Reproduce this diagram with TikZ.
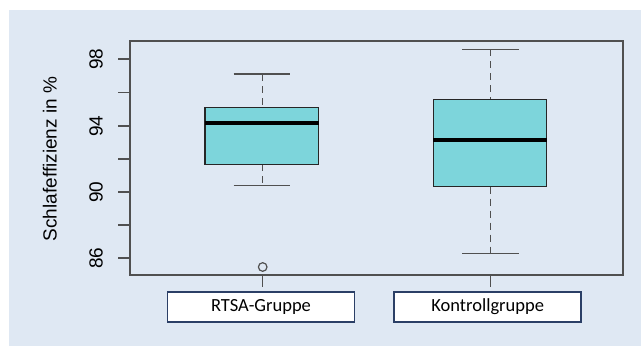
\documentclass[tikz,border=0pt]{standalone}
\usepackage{fontspec}
\setmainfont{Liberation Sans}
\newfontfamily\labelfont{Carlito}
\usetikzlibrary{positioning}
\definecolor{bgblue}{HTML}{DFE8F3}
\definecolor{boxcyan}{HTML}{7DD5DB}
\definecolor{axisgray}{HTML}{505050}
\definecolor{navy}{HTML}{2B3F66}
\begin{document}
\begin{tikzpicture}[x=1pt,y=-1pt,
    axisline/.style={draw=axisgray,line width=1.5pt},
    whisker/.style={draw=axisgray,line width=1.5pt,dash pattern=on 7pt off 5pt},
    boxbody/.style={draw=black!85,line width=1.5pt,fill=boxcyan},
    medianline/.style={line width=4pt,black},
    ticklabel/.style={rotate=90,anchor=south,inner sep=0pt,font=\fontsize{19}{22}\selectfont},
    groupbox/.style={draw=navy,line width=1.5pt,fill=white,minimum width=187pt,minimum height=30pt,
      inner sep=0pt,font=\labelfont\fontsize{18.5}{21}\selectfont}]
      \useasboundingbox (0,0) rectangle (641,346);
      \fill[bgblue] (9,10) rectangle (641,346);
      % frame
      \draw[axisline] (130,41) rectangle (623,275);
      % y axis
      \foreach \y/\v in {59/98,126/94,192/90,258/86}{
        \draw[axisline] (118,\y) -- (130,\y);
        \node[ticklabel] at (103,\y) {\v};
      }
      \foreach \y in {92.5,159,225}
        \draw[axisline] (118,\y) -- (130,\y);
      \node[rotate=90,anchor=south,inner sep=0pt,font=\fontsize{19}{22}\selectfont] (ytitle) at (57,159) {Schlafeffizienz in \%};
      % RTSA
      \draw[whisker] (262.7,74) -- (262.7,107.7);
      \draw[whisker] (262.7,164.3) -- (262.7,185.7);
      \draw[axisline] (233.7,74) -- (290.3,74);
      \draw[axisline] (233.7,185.7) -- (290.3,185.7);
      \draw[boxbody] (205,107.7) rectangle (318.7,164.3);
      \draw[medianline] (205,122.7) -- (318.7,122.7);
      \draw[axisline,line width=1.2pt] (262.7,267) circle (4.3pt);
      % Kontrolle
      \draw[whisker] (490.7,49.3) -- (490.7,99.3);
      \draw[whisker] (490.7,186.7) -- (490.7,253.7);
      \draw[axisline] (462,49.3) -- (519.3,49.3);
      \draw[axisline] (462,253.7) -- (519.3,253.7);
      \draw[boxbody] (433.3,99.3) rectangle (546.7,186.7);
      \draw[medianline] (433.3,140) -- (546.7,140);
      % x axis
      \draw[axisline] (262.7,275) -- (262.7,287);
      \draw[axisline] (490.7,275) -- (490.7,287);
      \node[groupbox] (rtsa) at (261,307) {RTSA-Gruppe};
      \node[groupbox] (kontroll) at (487.7,307) {Kontrollgruppe};
\end{tikzpicture}
\end{document}
